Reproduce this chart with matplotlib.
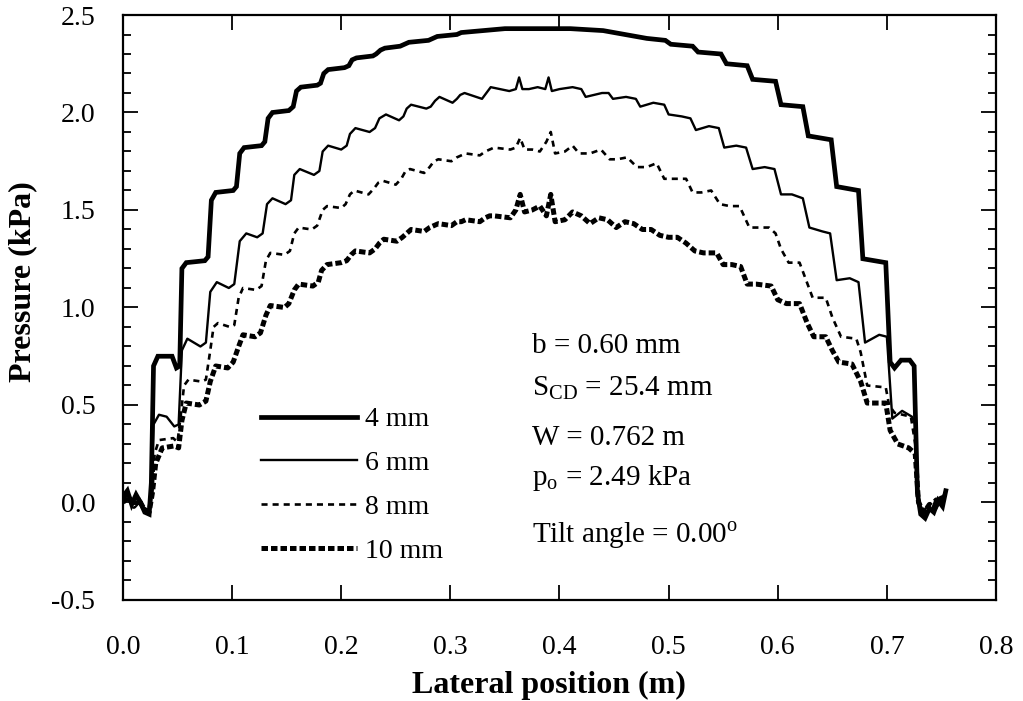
import matplotlib
matplotlib.use("Agg")
import matplotlib.pyplot as plt
from matplotlib.ticker import MultipleLocator

plt.rcParams['font.family'] = ['Liberation Serif', 'DejaVu Serif']
plt.rcParams['mathtext.fontset'] = 'custom'
plt.rcParams['mathtext.rm'] = 'Liberation Serif'
plt.rcParams['axes.unicode_minus'] = False

# ---- data: lateral position (m) vs pressure (kPa) ----
x_4mm = [0.000, 0.004, 0.008, 0.012, 0.016, 0.020, 0.024,
         0.026, 0.028, 0.032, 0.045, 0.049,
         0.052, 0.054, 0.058, 0.075,
         0.078, 0.081, 0.085, 0.101,
         0.104, 0.107, 0.111, 0.127,
         0.130, 0.133, 0.137, 0.152,
         0.156, 0.159, 0.163, 0.178,
         0.181, 0.184, 0.188, 0.203,
         0.207, 0.210, 0.214, 0.229,
         0.232, 0.236, 0.240, 0.254,
         0.258, 0.262, 0.280,
         0.284, 0.288, 0.306,
         0.310, 0.330, 0.350, 0.380, 0.410, 0.440, 0.460, 0.480,
         0.497, 0.502, 0.522, 0.527, 0.548, 0.553, 0.572, 0.577, 0.598,
         0.603, 0.623, 0.628, 0.649, 0.654, 0.674, 0.678, 0.699,
         0.703, 0.707, 0.713, 0.721, 0.725,
         0.728, 0.731, 0.735, 0.739, 0.743, 0.747, 0.751, 0.754]
y_4mm = [0.03, 0.06, -0.01, 0.04, 0.00, -0.05, -0.06,
         0.10, 0.70, 0.75, 0.75, 0.69,
         0.70, 1.20, 1.23, 1.24,
         1.26, 1.55, 1.59, 1.60,
         1.62, 1.79, 1.82, 1.83,
         1.85, 1.97, 2.00, 2.01,
         2.03, 2.11, 2.13, 2.14,
         2.15, 2.20, 2.22, 2.23,
         2.24, 2.27, 2.28, 2.29,
         2.30, 2.32, 2.33, 2.34,
         2.35, 2.36, 2.37,
         2.38, 2.39, 2.40,
         2.41, 2.42, 2.43, 2.43, 2.43, 2.42, 2.40, 2.38,
         2.37, 2.35, 2.34, 2.31, 2.30, 2.25, 2.24, 2.17, 2.16,
         2.04, 2.03, 1.88, 1.86, 1.62, 1.60, 1.25, 1.23,
         0.72, 0.69, 0.73, 0.73, 0.70,
         0.05, -0.06, -0.08, -0.03, -0.05, 0.01, -0.02, 0.06]

x_6mm = [0.000, 0.004, 0.008, 0.012, 0.016, 0.020, 0.024,
         0.026, 0.028, 0.033, 0.040, 0.047, 0.051,
         0.054, 0.059, 0.071, 0.076,
         0.080, 0.086, 0.097, 0.102,
         0.107, 0.113, 0.123, 0.128,
         0.132, 0.137, 0.149, 0.154,
         0.157, 0.162, 0.175, 0.180,
         0.183, 0.188, 0.200, 0.205,
         0.208, 0.213, 0.226, 0.231,
         0.235, 0.241, 0.253, 0.257,
         0.260, 0.264, 0.278, 0.282,
         0.286, 0.290, 0.302, 0.306,
         0.309, 0.313, 0.329, 0.333,
         0.337, 0.354, 0.360, 0.363, 0.366, 0.372, 0.380, 0.387, 0.390, 0.393, 0.400,
         0.412, 0.420, 0.424, 0.439, 0.445, 0.449, 0.461, 0.470, 0.474,
         0.486, 0.496, 0.500, 0.512, 0.520, 0.525, 0.537, 0.546, 0.551,
         0.562, 0.571, 0.577, 0.588, 0.597, 0.603, 0.613, 0.623, 0.629,
         0.641, 0.648, 0.654, 0.666, 0.674, 0.680, 0.693, 0.700, 0.705,
         0.714, 0.723, 0.726,
         0.729, 0.733, 0.737, 0.741, 0.745, 0.749, 0.753]
y_6mm = [0.02, 0.05, 0.00, 0.03, -0.01, -0.04, -0.05,
         0.05, 0.40, 0.45, 0.44, 0.39, 0.40,
         0.78, 0.84, 0.80, 0.82,
         1.08, 1.13, 1.10, 1.12,
         1.34, 1.38, 1.36, 1.38,
         1.53, 1.56, 1.53, 1.55,
         1.68, 1.71, 1.68, 1.70,
         1.80, 1.83, 1.81, 1.83,
         1.89, 1.92, 1.90, 1.92,
         1.97, 1.99, 1.96, 1.98,
         2.02, 2.04, 2.02, 2.03,
         2.06, 2.08, 2.05, 2.07,
         2.09, 2.10, 2.07, 2.10,
         2.13, 2.11, 2.12, 2.18, 2.12, 2.12, 2.13, 2.12, 2.18, 2.11, 2.12,
         2.13, 2.12, 2.08, 2.10, 2.10, 2.07, 2.08, 2.07, 2.03,
         2.05, 2.04, 1.99, 1.98, 1.97, 1.91, 1.93, 1.92, 1.82,
         1.83, 1.82, 1.71, 1.72, 1.71, 1.58, 1.58, 1.56, 1.41,
         1.39, 1.38, 1.14, 1.15, 1.13, 0.82, 0.86, 0.85, 0.43,
         0.47, 0.44, 0.40,
         0.00, -0.05, -0.02, -0.04, 0.02, 0.00, 0.05]

x_8mm = [0.000, 0.005, 0.010, 0.015, 0.020, 0.024,
         0.027, 0.029, 0.033, 0.046, 0.050,
         0.053, 0.056, 0.060, 0.072, 0.076,
         0.080, 0.083, 0.087, 0.098, 0.102,
         0.106, 0.110, 0.122, 0.127,
         0.131, 0.135, 0.148, 0.153,
         0.157, 0.161, 0.173, 0.178,
         0.183, 0.187, 0.200, 0.204,
         0.208, 0.212, 0.225, 0.230,
         0.234, 0.238, 0.250, 0.255,
         0.259, 0.263, 0.276, 0.281,
         0.285, 0.289, 0.301, 0.306,
         0.310, 0.314, 0.327, 0.332,
         0.336, 0.340, 0.355, 0.360, 0.364, 0.368, 0.375, 0.382, 0.388, 0.392, 0.396, 0.405,
         0.412, 0.418, 0.428, 0.438, 0.446, 0.453, 0.462, 0.471, 0.480, 0.489,
         0.496, 0.505, 0.516, 0.522, 0.530, 0.539, 0.547, 0.556, 0.565,
         0.574, 0.583, 0.592, 0.598, 0.603, 0.610, 0.620, 0.626, 0.632, 0.644,
         0.650, 0.658, 0.672, 0.676, 0.682, 0.699, 0.702, 0.707, 0.722, 0.726,
         0.729, 0.733, 0.738, 0.743, 0.748, 0.753]
y_8mm = [0.02, 0.04, 0.00, 0.02, -0.03, -0.04,
         0.05, 0.25, 0.32, 0.33, 0.31,
         0.45, 0.60, 0.63, 0.62, 0.63,
         0.78, 0.90, 0.92, 0.90, 0.91,
         1.05, 1.10, 1.09, 1.11,
         1.24, 1.28, 1.27, 1.29,
         1.38, 1.41, 1.40, 1.42,
         1.50, 1.52, 1.51, 1.53,
         1.58, 1.60, 1.58, 1.61,
         1.64, 1.65, 1.63, 1.66,
         1.70, 1.71, 1.69, 1.72,
         1.75, 1.76, 1.75, 1.77,
         1.78, 1.79, 1.78, 1.80,
         1.81, 1.82, 1.81, 1.82, 1.87, 1.81, 1.81, 1.80, 1.85, 1.90, 1.79, 1.80,
         1.83, 1.79, 1.79, 1.81, 1.76, 1.76, 1.77, 1.72, 1.72, 1.74,
         1.66, 1.66, 1.66, 1.59, 1.59, 1.60, 1.53, 1.52, 1.52,
         1.41, 1.41, 1.41, 1.38, 1.30, 1.23, 1.23, 1.14, 1.05, 1.05,
         0.95, 0.85, 0.84, 0.77, 0.60, 0.59, 0.50, 0.46, 0.44, 0.30,
         0.00, -0.04, -0.02, 0.02, -0.01, 0.04]

x_10mm = [0.000, 0.005, 0.010, 0.015, 0.020, 0.024,
          0.027, 0.030, 0.036, 0.047, 0.051,
          0.054, 0.058, 0.070, 0.076,
          0.080, 0.085, 0.096, 0.101,
          0.106, 0.110, 0.121, 0.126,
          0.131, 0.135, 0.148, 0.152,
          0.157, 0.161, 0.174, 0.179,
          0.182, 0.187, 0.200, 0.205,
          0.209, 0.213, 0.226, 0.231,
          0.235, 0.239, 0.251, 0.256,
          0.260, 0.264, 0.276, 0.281,
          0.285, 0.289, 0.301, 0.306,
          0.310, 0.314, 0.327, 0.332,
          0.336, 0.340, 0.355, 0.360, 0.364, 0.368, 0.375, 0.382, 0.388, 0.392, 0.396,
          0.405, 0.412, 0.420, 0.428, 0.436, 0.444, 0.452, 0.460, 0.468, 0.476,
          0.484, 0.492, 0.500, 0.508, 0.516, 0.524, 0.532, 0.544, 0.550, 0.558,
          0.566, 0.572, 0.580, 0.594, 0.600, 0.608, 0.620, 0.627, 0.633, 0.644,
          0.650, 0.656, 0.668, 0.676, 0.682, 0.699, 0.703, 0.710, 0.720, 0.726,
          0.729, 0.734, 0.739, 0.744, 0.749, 0.753]
y_10mm = [0.00, 0.03, -0.02, 0.01, -0.04, -0.05,
          0.05, 0.20, 0.28, 0.29, 0.28,
          0.42, 0.51, 0.50, 0.52,
          0.62, 0.70, 0.69, 0.72,
          0.80, 0.86, 0.85, 0.87,
          0.96, 1.01, 1.00, 1.02,
          1.09, 1.12, 1.11, 1.13,
          1.19, 1.22, 1.23, 1.24,
          1.27, 1.29, 1.28, 1.30,
          1.33, 1.35, 1.34, 1.36,
          1.38, 1.40, 1.39, 1.41,
          1.42, 1.43, 1.42, 1.44,
          1.44, 1.45, 1.44, 1.46,
          1.47, 1.47, 1.46, 1.50, 1.58, 1.49, 1.50, 1.52, 1.47, 1.58, 1.44,
          1.45, 1.49, 1.47, 1.43, 1.46, 1.45, 1.41, 1.44, 1.43, 1.40,
          1.40, 1.37, 1.36, 1.36, 1.33, 1.29, 1.28, 1.28, 1.22, 1.22,
          1.21, 1.12, 1.12, 1.11, 1.04, 1.02, 1.02, 0.92, 0.85, 0.85,
          0.78, 0.72, 0.71, 0.62, 0.51, 0.51, 0.37, 0.30, 0.28, 0.25,
          0.00, -0.05, -0.01, -0.03, 0.02, 0.03]

labels = ["4 mm", "6 mm", "8 mm", "10 mm"]
notes = [r"b = 0.60 mm", r"S$_{\rm CD}$ = 25.4 mm", r"W = 0.762 m",
         r"p$_{\rm o}$ = 2.49 kPa", r"Tilt angle = 0.00$^{\rm o}$"]

fig = plt.figure(figsize=(10.23, 7.01), dpi=100)
ax = fig.add_axes([0.1202, 0.1441, 0.8534, 0.8345])

ax.plot(x_4mm, y_4mm, color='black', lw=3.4, solid_joinstyle='miter', label=labels[0])
ax.plot(x_6mm, y_6mm, color='black', lw=1.7, label=labels[1])
ax.plot(x_8mm, y_8mm, color='black', lw=1.9, dashes=(2.3, 1.9), label=labels[2])
ax.plot(x_10mm, y_10mm, color='black', lw=3.6, dashes=(1.3, 0.6), label=labels[3])

ax.set_xlim(0.0, 0.8)
ax.set_ylim(-0.5, 2.5)
ax.xaxis.set_major_locator(MultipleLocator(0.1))
ax.yaxis.set_major_locator(MultipleLocator(0.5))
ax.yaxis.set_minor_locator(MultipleLocator(0.1))
ax.tick_params(which='both', direction='in', top=True, right=True, width=1.3)
ax.tick_params(which='major', length=11)
ax.tick_params(which='minor', length=6)
ax.tick_params(axis='x', labelsize=20, pad=25)
ax.tick_params(axis='y', labelsize=20, pad=20)
ax.set_xticklabels([f"{v:.1f}" for v in ax.get_xticks()])
for s in ax.spines.values():
    s.set_linewidth(1.6)

ax.set_xlabel("Lateral position (m)", fontsize=23, fontweight='bold')
ax.set_ylabel("Pressure (kPa)", fontsize=23, fontweight='bold')
ax.xaxis.set_label_coords(0.488, -0.122)
ax.yaxis.set_label_coords(-0.098, 0.544)

ax.legend(loc='upper left', bbox_to_anchor=(0.158, 0.33), frameon=False,
          fontsize=20, handlelength=3.45, labelspacing=0.66, handletextpad=0.3,
          borderpad=0, borderaxespad=0)

note_y = [0.434, 0.363, 0.277, 0.209, 0.111]
for t, yy in zip(notes, note_y):
    ax.text(0.4685, yy, t, transform=ax.transAxes, fontsize=21, va='center', ha='left')

fig.savefig("out.png", dpi=100)
